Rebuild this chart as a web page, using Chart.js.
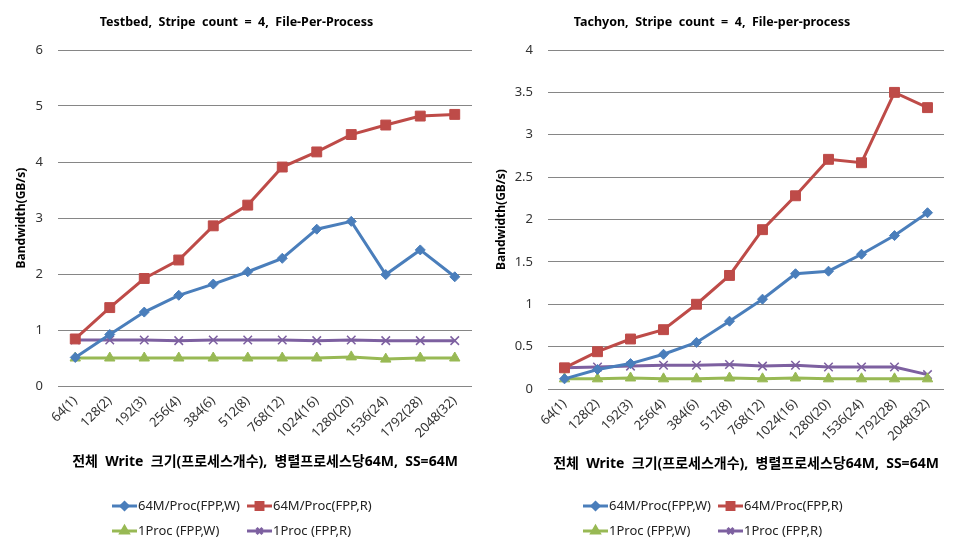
<!DOCTYPE html>
<html><head><meta charset="utf-8">
<script src="https://cdn.jsdelivr.net/npm/chart.js@4/dist/chart.umd.min.js"></script>
<style>html,body{margin:0;padding:0;background:#fff}#wrap{display:flex;width:960px;height:549px}canvas{display:block}</style>
</head><body><div id="wrap"><canvas id="c1" width="480" height="549"></canvas><canvas id="c2" width="480" height="549"></canvas></div>
<script>
const categories = ['64(1)','128(2)','192(3)','256(4)','384(6)','512(8)','768(12)','1024(16)','1280(20)','1536(24)','1792(28)','2048(32)'];
const seriesNames = ['64M/Proc(FPP,W)','64M/Proc(FPP,R)','1Proc (FPP,W)','1Proc (FPP,R)'];

const testbedProcW = [0.51, 0.92, 1.32, 1.62, 1.82, 2.04, 2.28, 2.80, 2.94, 1.99, 2.43, 1.95];
const testbedProcR = [0.84, 1.40, 1.92, 2.25, 2.86, 3.23, 3.91, 4.18, 4.49, 4.66, 4.82, 4.85];
const testbed1ProcW = [0.50, 0.50, 0.50, 0.50, 0.50, 0.50, 0.50, 0.50, 0.52, 0.48, 0.50, 0.50];
const testbed1ProcR = [0.82, 0.82, 0.82, 0.81, 0.82, 0.82, 0.82, 0.81, 0.82, 0.81, 0.81, 0.81];

const tachyonProcW = [0.12, 0.23, 0.30, 0.41, 0.55, 0.80, 1.06, 1.36, 1.39, 1.59, 1.81, 2.08];
const tachyonProcR = [0.25, 0.44, 0.59, 0.70, 1.00, 1.34, 1.88, 2.28, 2.71, 2.67, 3.50, 3.32];
const tachyon1ProcW = [0.12, 0.12, 0.13, 0.12, 0.12, 0.13, 0.12, 0.13, 0.12, 0.12, 0.12, 0.12];
const tachyon1ProcR = [0.25, 0.26, 0.27, 0.28, 0.28, 0.29, 0.27, 0.28, 0.26, 0.26, 0.26, 0.17];

const testbedYMax = 6, testbedYStep = 1;
const tachyonYMax = 4, tachyonYStep = 0.5;

const titles = ['Testbed,  Stripe  count  =  4,  File-Per-Process', 'Tachyon,  Stripe  count  =  4,  File-per-process'];
const xTitle = '전체  Write  크기(프로세스개수),  병렬프로세스당64M,  SS=64M';
const yTitle = 'Bandwidth(GB/s)';

const FONT = '"Noto Sans", "Noto Sans CJK KR", sans-serif';
const styles = [
  {c:'#4A7EBB', p:'rectRot', r:5},
  {c:'#BE4B48', p:'rect', r:7},
  {c:'#98B954', p:'triangle', r:6},
  {c:'#7D60A0', p:'crossRot', r:6}
];

const legendPlugin = {
  id: 'gridLegend',
  afterDraw(chart, args, opts) {
    const ctx = chart.ctx;
    ctx.save();
    ctx.font = '13px ' + FONT;
    ctx.textBaseline = 'middle';
    ctx.textAlign = 'left';
    chart.data.datasets.forEach((ds, i) => {
      const x = opts.x + (i % 2) * opts.colGap;
      const y = opts.y + Math.floor(i / 2) * opts.rowGap;
      ctx.strokeStyle = ds.borderColor;
      ctx.lineWidth = 3;
      ctx.beginPath(); ctx.moveTo(x, y); ctx.lineTo(x + 25, y); ctx.stroke();
      ctx.fillStyle = ds.pointBackgroundColor;
      ctx.strokeStyle = ds.pointBorderColor;
      if (Chart.helpers && Chart.helpers.drawPoint) {
        Chart.helpers.drawPoint(ctx, {pointStyle: ds.pointStyle, radius: ds.pointRadius * 0.7, borderWidth: ds.pointBorderWidth, rotation: 0}, x + 12.5, y);
      }
      ctx.fillStyle = '#222';
      ctx.fillText(ds.label, x + 26, y);
    });
    ctx.restore();
  }
};

function makeChart(id, idx, data, yMax, yStep, lay) {
  const datasets = data.map((vals, i) => ({
    label: seriesNames[i],
    data: vals,
    borderColor: styles[i].c,
    backgroundColor: styles[i].c,
    pointBackgroundColor: styles[i].c,
    pointBorderColor: styles[i].c,
    pointStyle: styles[i].p,
    pointRadius: styles[i].r,
    pointBorderWidth: i === 3 ? 1.5 : 1,
    borderWidth: 3,
    tension: 0
  }));
  return new Chart(document.getElementById(id), {
    type: 'line',
    data: {labels: categories, datasets},
    plugins: [legendPlugin],
    options: {
      responsive: false,
      animation: false,
      layout: {padding: {left: 0, right: lay.right, top: 0, bottom: lay.bottom}},
      plugins: {
        legend: {display: false},
        tooltip: {enabled: false},
        title: {display: true, text: titles[idx], color: '#000', font: {family: FONT, size: 12.5, weight: 'bold'}, padding: {top: 15, bottom: 20}},
        gridLegend: {x: lay.lx, y: 506, colGap: 135, rowGap: 25}
      },
      scales: {
        x: {
          offset: true,
          grid: {display: false, drawTicks: false},
          border: {display: false},
          ticks: {minRotation: 45, maxRotation: 45, autoSkip: false, color: '#333', font: {family: FONT, size: 13}, padding: 7},
          title: {display: true, text: xTitle, color: '#000', font: {family: FONT, size: 14, weight: 'bold'}, padding: {top: 4, bottom: 0}},
          afterFit(s) { s.height = lay.xh; }
        },
        y: {
          min: 0, max: yMax,
          grid: {color: '#868686', lineWidth: 1, drawTicks: false},
          border: {display: false},
          ticks: {stepSize: yStep, color: '#333', font: {family: FONT, size: 13}, padding: 15, callback: v => String(v)},
          title: {display: true, text: yTitle, color: '#000', font: {family: FONT, size: 12, weight: 'bold'}, padding: {top: 14, bottom: 0}},
          afterFit(s) { s.width = lay.yw; }
        }
      }
    }
  });
}

makeChart('c1', 0, [testbedProcW, testbedProcR, testbed1ProcW, testbed1ProcR], testbedYMax, testbedYStep,
  {right: 7, bottom: 79, xh: 84, yw: 58, lx: 112});
makeChart('c2', 1, [tachyonProcW, tachyonProcR, tachyon1ProcW, tachyon1ProcR], tachyonYMax, tachyonYStep,
  {right: 16, bottom: 77, xh: 83, yw: 68, lx: 103});
</script></body></html>
